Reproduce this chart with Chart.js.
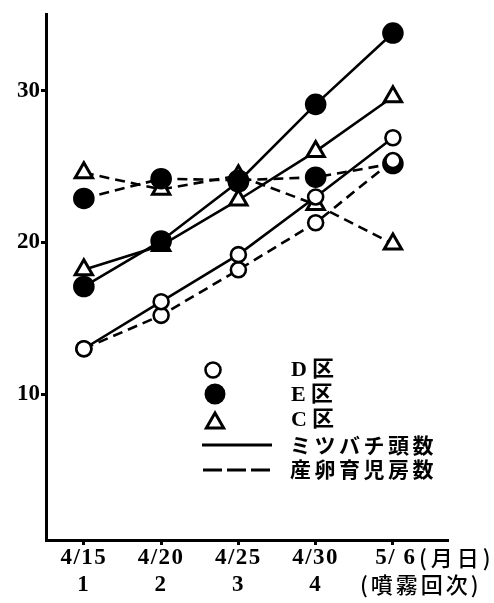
<!DOCTYPE html>
<html><head><meta charset="utf-8">
<script src="https://cdn.jsdelivr.net/npm/chart.js@4"></script>
<style>html,body{margin:0;padding:0;background:#fff}#wrap{width:494px;height:603px;position:relative}canvas{display:block}</style>
</head><body><div id="wrap"><canvas id="c" width="494" height="603" style="width:494px;height:603px"></canvas></div>
<script>
const dates = ['4/15', '4/20', '4/25', '4/30', '5/ 6'];
const sprayRounds = ['1', '2', '3', '4', ''];
const yTickValues = [10, 20, 30];
// ミツバチ頭数 (solid) / 産卵育児房数 (dashed)
const beesD  = [13.0, 16.1, 19.2, 23.0, 26.9];
const broodD = [13.0, 15.2, 18.2, 21.3, 25.4];
const beesE  = [17.1, 20.1, 24.0, 29.1, 33.8];
const broodE = [22.9, 24.2, 24.1, 24.3, 25.2];
const beesC  = [18.2, 19.8, 22.8, 26.0, 29.6];
const broodC = [24.6, 23.5, 24.4, 22.5, 19.9];

const toXY = arr => arr.map((v, i) => ({x: i, y: v}));
const DASH = [10, 6];

function ds(label, data, style, dashed) {
  const base = {
    label, data: toXY(data), borderColor: '#000', borderWidth: 2.6,
    borderDash: dashed ? DASH : [], tension: 0, fill: false,
    pointBorderColor: '#000', pointBorderWidth: 2.6
  };
  if (style === 'open') Object.assign(base, {pointStyle: 'circle', pointRadius: 7.5, pointBackgroundColor: '#fff'});
  if (style === 'filled') Object.assign(base, {pointStyle: 'circle', pointRadius: 9.5, pointBackgroundColor: '#000'});
  if (style === 'tri') Object.assign(base, {pointStyle: 'triangle', pointRadius: 10, pointBackgroundColor: '#fff', pointBorderWidth: 3});
  return base;
}

const overlay = {
  id: 'overlay',
  afterDraw(chart) {
    const ctx = chart.ctx, xs = chart.scales.x;
    const setLS = v => { try { ctx.letterSpacing = v; } catch (e) {} };
    ctx.save();
    ctx.fillStyle = '#000';
    ctx.textBaseline = 'middle';
    ctx.textAlign = 'center';
    ctx.font = 'bold 23px "Liberation Serif", serif';
    setLS('1.5px');
    dates.forEach((d, i) => {
      const x = xs.getPixelForValue(i);
      ctx.fillText(d, x + (i === 4 ? 3 : 0), 558);
      if (sprayRounds[i]) ctx.fillText(sprayRounds[i], x, 585);
    });
    const x5 = xs.getPixelForValue(4);
    ctx.textAlign = 'left';
    ctx.font = '500 22px "Noto Sans CJK JP", sans-serif';
    setLS('4px');
    ctx.fillText('(月日)', x5 + 26, 558);
    setLS('3px');
    ctx.fillText('(噴霧回次)', x5 - 33, 585);

    // legend
    ctx.lineWidth = 2.6; ctx.strokeStyle = '#000';
    ctx.beginPath(); ctx.arc(213, 370, 7.5, 0, Math.PI * 2); ctx.fillStyle = '#fff'; ctx.fill(); ctx.stroke();
    ctx.beginPath(); ctx.arc(215, 394, 10.5, 0, Math.PI * 2); ctx.fillStyle = '#000'; ctx.fill();
    ctx.lineWidth = 3;
    ctx.beginPath();
    const r = 10, cx = 215, cy = 423;
    for (let k = 0; k < 3; k++) {
      const a = k * 2 * Math.PI / 3;
      const px = cx + Math.sin(a) * r, py = cy - Math.cos(a) * r;
      if (k === 0) ctx.moveTo(px, py); else ctx.lineTo(px, py);
    }
    ctx.closePath(); ctx.fillStyle = '#fff'; ctx.fill(); ctx.stroke();
    ctx.lineWidth = 3;
    ctx.beginPath(); ctx.moveTo(202, 445); ctx.lineTo(272, 445); ctx.stroke();
    ctx.setLineDash([19, 5]);
    ctx.beginPath(); ctx.moveTo(203, 470); ctx.lineTo(270, 470); ctx.stroke();
    ctx.setLineDash([]);

    ctx.fillStyle = '#000';
    ctx.textAlign = 'left';
    const tx = 291;
    ctx.font = 'bold 22px "Liberation Serif", "Noto Sans CJK JP", serif';
    setLS('5px');
    ctx.fillText('D区', tx, 370);
    ctx.fillText('E区', tx, 395);
    ctx.fillText('C区', tx, 420);
    ctx.font = '700 21px "Noto Sans CJK JP", sans-serif';
    setLS('3.5px');
    ctx.fillText('ミツバチ頭数', tx - 1, 445);
    ctx.fillText('産卵育児房数', tx - 1, 469);
    ctx.restore();
  }
};

new Chart(document.getElementById('c'), {
  type: 'line',
  data: {
    datasets: [
      ds('D区 ミツバチ頭数', beesD, 'open', false),
      ds('D区 産卵育児房数', broodD, 'open', true),
      ds('E区 ミツバチ頭数', beesE, 'filled', false),
      ds('E区 産卵育児房数', broodE, 'filled', true),
      ds('C区 ミツバチ頭数', beesC, 'tri', false),
      ds('C区 産卵育児房数', broodC, 'tri', true)
    ]
  },
  options: {
    responsive: false,
    maintainAspectRatio: false,
    animation: false,
    devicePixelRatio: 1,
    layout: {padding: {top: 7, right: 47, left: 0, bottom: 0}},
    plugins: {legend: {display: false}, tooltip: {enabled: false}},
    scales: {
      x: {
        type: 'linear', min: -0.49, max: 4.7,
        afterBuildTicks: s => { s.ticks = dates.map((d, i) => ({value: i})); },
        afterFit: s => { s.height = 63; },
        ticks: {display: false},
        grid: {display: true, drawOnChartArea: false, drawTicks: true, tickLength: 5, color: '#000', lineWidth: 3},
        border: {display: true, color: '#000', width: 3}
      },
      y: {
        min: 0.4, max: 35,
        afterBuildTicks: s => { s.ticks = yTickValues.map(v => ({value: v})); },
        afterFit: s => { s.width = 46; },
        ticks: {color: '#000', padding: 1, font: {family: '"Liberation Serif", serif', size: 23, weight: 'bold'}},
        grid: {display: true, drawOnChartArea: false, drawTicks: true, tickLength: 5, color: '#000', lineWidth: 3},
        border: {display: true, color: '#000', width: 3}
      }
    }
  },
  plugins: [overlay]
});
</script></body></html>
